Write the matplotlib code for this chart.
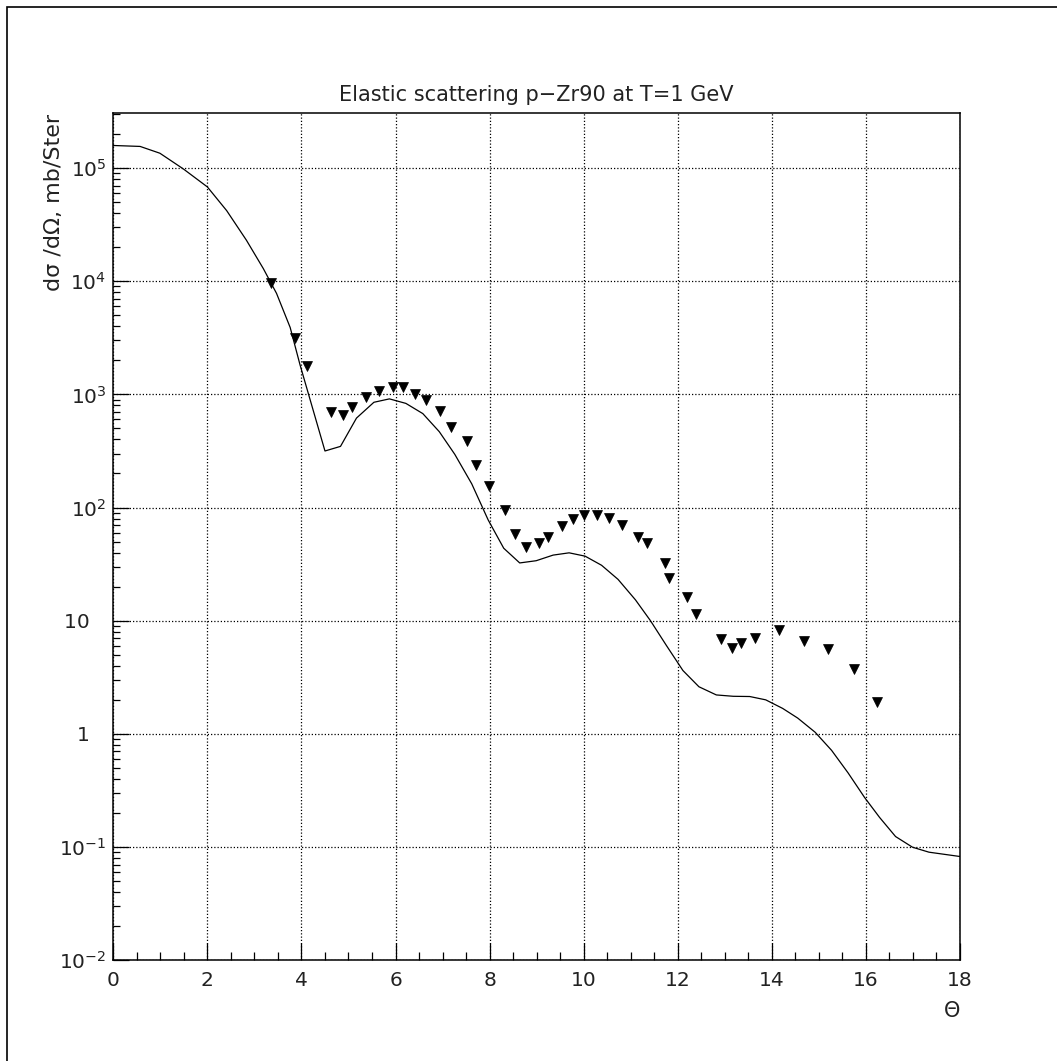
import matplotlib
matplotlib.use("Agg")
import matplotlib.pyplot as plt
from matplotlib.ticker import FixedLocator, FixedFormatter, LogLocator, MultipleLocator, NullFormatter
from matplotlib.patches import Rectangle

# ---- data ----
theory_theta = [0, 0.57, 0.99, 1.49, 2.0, 2.41, 2.83, 3.19, 3.47, 3.76, 3.97, 4.50, 4.83, 5.17,
                5.54, 5.87, 6.22, 6.58, 6.93, 7.26, 7.62, 7.97, 8.30, 8.64, 8.99, 9.35, 9.69,
                10.03, 10.38, 10.73, 11.10, 11.42, 11.76, 12.11, 12.45, 12.82, 13.18, 13.53,
                13.87, 14.23, 14.55, 14.92, 15.27, 15.62, 15.97, 16.29, 16.63, 16.99, 17.34, 18.0]
theory_xs = [1.58e5, 1.55e5, 1.35e5, 9.8e4, 6.8e4, 4.2e4, 2.3e4, 1.29e4, 7.8e3, 3.9e3, 1.82e3,
             316, 347, 617, 851, 912, 832, 676, 468, 295, 162, 77.6, 43.7, 32.4, 33.9, 38.0,
             39.8, 37.2, 30.9, 23.2, 15.3, 10.0, 6.03, 3.63, 2.61, 2.21, 2.15, 2.14, 2.0, 1.68,
             1.38, 1.035, 0.716, 0.453, 0.275, 0.183, 0.124, 0.0998, 0.0902, 0.0826]

exp_theta = [3.35, 3.86, 4.11, 4.62, 4.88, 5.08, 5.37, 5.65, 5.94, 6.16, 6.41, 6.65, 6.94, 7.17,
             7.51, 7.71, 7.98, 8.32, 8.54, 8.77, 9.04, 9.25, 9.54, 9.78, 10.00, 10.29, 10.54,
             10.82, 11.16, 11.34, 11.73, 11.82, 12.19, 12.38, 12.91, 13.16, 13.34, 13.65, 14.15,
             14.69, 15.20, 15.75, 16.23]
exp_xs = [9550, 3160, 1780, 692, 661, 776, 955, 1070, 1150, 1150, 1000, 891, 708, 513, 389, 240,
          155, 95.5, 58.9, 44.7, 49.0, 55.0, 69.2, 79.4, 85.1, 85.1, 81.3, 70.8, 55.0, 49.0, 32.4,
          24.0, 16.2, 11.5, 6.92, 5.75, 6.31, 7.08, 8.32, 6.61, 5.62, 3.72, 1.91]

x_ticks = [0, 2, 4, 6, 8, 10, 12, 14, 16, 18]
y_ticks = [1e-2, 1e-1, 1, 10, 1e2, 1e3, 1e4, 1e5]
y_ticklabels = [r"$10^{-2}$", r"$10^{-1}$", "1\u2002 ", "10\u2002 ", r"$10^{2}$", r"$10^{3}$",
                r"$10^{4}$", r"$10^{5}$"]

title = "Elastic scattering p\u2212Zr90 at T=1 GeV"
ylabel = "d\u03c3 /d\u03a9, mb/Ster"
xlabel = "\u0398"

# ---- figure ----
plt.rcParams['font.family'] = ['DejaVu Sans']
plt.rcParams['mathtext.fontset'] = 'dejavusans'
W, H = 1057, 1061
fig = plt.figure(figsize=(W / 100, H / 100), dpi=100)
fig.patch.set_facecolor('white')

# outer frame (left and top visible)
fig.add_artist(Rectangle((7 / W, -0.1), 1.2, 1 - 7 / H + 0.1, transform=fig.transFigure,
                         fill=False, edgecolor='black', linewidth=1.2))

left, right = 113.3 / W, 960 / W
bottom, top = 1 - 960.3 / H, 1 - 113.3 / H
ax = fig.add_axes([left, bottom, right - left, top - bottom])

ax.plot(theory_theta, theory_xs, color='black', linewidth=0.9)
ax.plot(exp_theta, exp_xs, linestyle='none', marker='v', markersize=7.5,
        markerfacecolor='black', markeredgecolor='black', markeredgewidth=0.5)

ax.set_yscale('log')
ax.set_xlim(0, 18)
ax.set_ylim(1e-2, 10 ** 5.483)

ax.xaxis.set_major_locator(FixedLocator(x_ticks))
ax.xaxis.set_minor_locator(MultipleLocator(0.5))
ax.yaxis.set_major_locator(FixedLocator(y_ticks))
ax.yaxis.set_major_formatter(FixedFormatter(y_ticklabels))
ax.yaxis.set_minor_locator(LogLocator(base=10, subs=[2, 3, 4, 5, 6, 7, 8, 9], numticks=20))
ax.yaxis.set_minor_formatter(NullFormatter())

ax.tick_params(axis='x', which='major', direction='in', length=12.5, width=0.9, pad=8,
               labelsize=14.5, labelcolor='#222222')
ax.tick_params(axis='x', which='minor', direction='in', length=5.8, width=0.9)
ax.tick_params(axis='y', which='major', direction='in', length=11.5, width=0.9, pad=5,
               labelsize=14.5, labelcolor='#222222')
ax.tick_params(axis='y', which='minor', direction='in', length=5, width=0.9)
ax.tick_params(top=False, right=False)

ax.grid(True, which='major', linestyle=(0, (1, 1.6)), color='black', linewidth=0.9)
for sp in ax.spines.values():
    sp.set_linewidth(1.1)

ax.set_title(title, fontsize=15, color='#222222', pad=9)
fig.text(54 / W, 1 - 114 / H, ylabel, rotation=90, ha='center', va='top',
         fontsize=16, color='#222222')
fig.text(952 / W, 1 - 1011 / H, xlabel, ha='center', va='center', fontsize=15, color='#222222')

fig.savefig("out.png", dpi=100)
